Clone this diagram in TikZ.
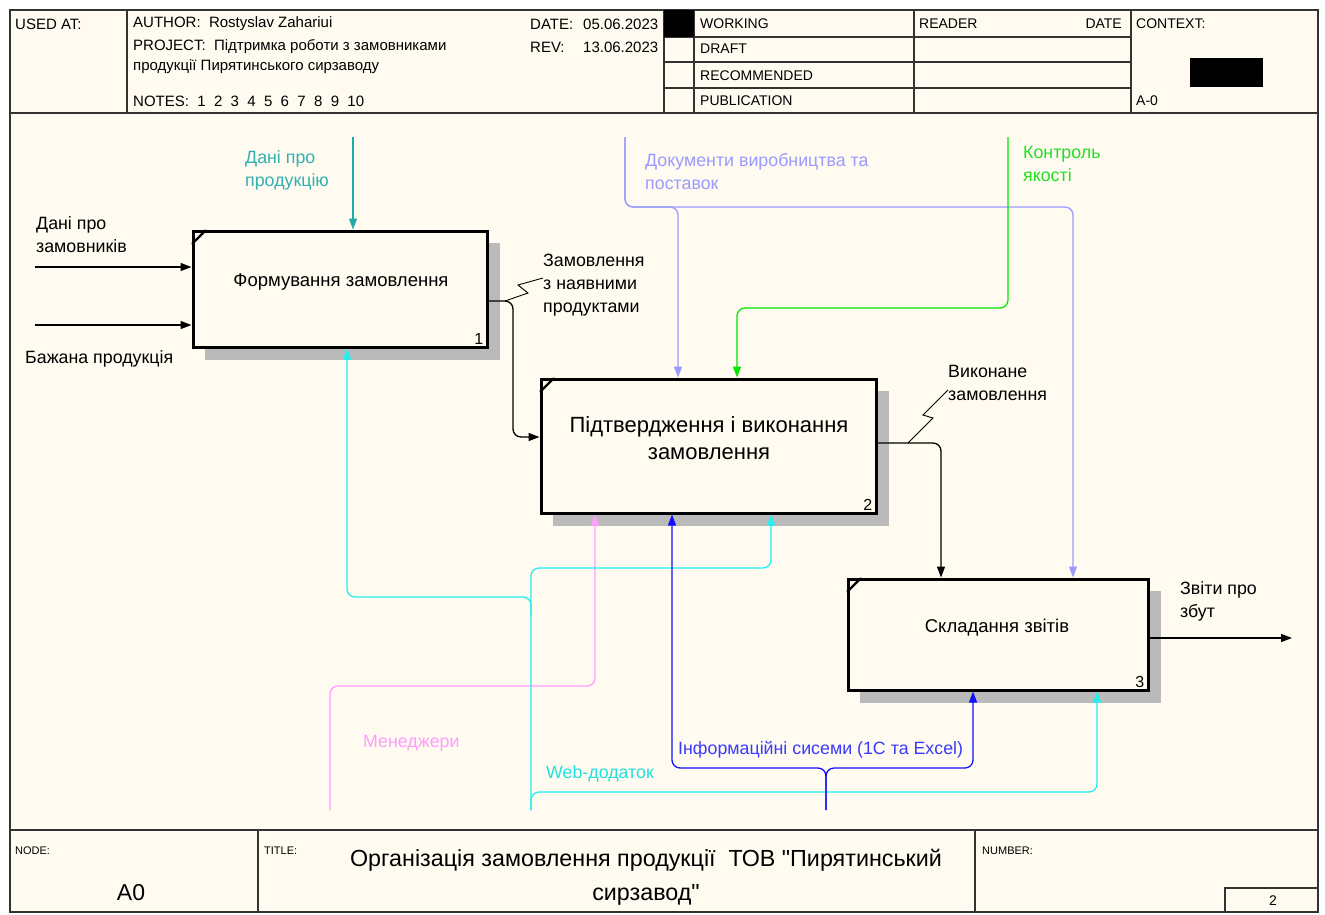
\documentclass[tikz,border=0pt]{standalone}
\usepackage{fontspec}
\setmainfont{Liberation Sans}
\newfontfamily\plainsans{Liberation Sans}[Ligatures=TeXOff]
\usetikzlibrary{arrows.meta}
\definecolor{paper}{HTML}{FFFBF0}
\definecolor{frameC}{HTML}{333333}
\definecolor{tealC}{HTML}{22AAAA}
\definecolor{tealT}{HTML}{33B0B0}
\definecolor{lavC}{HTML}{9A9AFF}
\definecolor{grnC}{HTML}{00E600}
\definecolor{grnT}{HTML}{22DD22}
\definecolor{pinkC}{HTML}{FF9CFF}
\definecolor{cyanC}{HTML}{22F0F0}
\definecolor{cyanT}{HTML}{22E0E0}
\definecolor{bluC}{HTML}{1010FF}
\definecolor{bluT}{HTML}{3A3AFF}
\definecolor{shadowC}{HTML}{BABABA}
\tikzset{
  frame/.style={draw=frameC, line width=1.2pt},
  hdr/.style={font=\fontsize{15}{17}\selectfont, anchor=west, inner sep=0pt},
  stat/.style={font=\fontsize{14}{16}\selectfont, anchor=west, inner sep=0pt},
  small/.style={font=\fontsize{11}{13}\selectfont, anchor=west, inner sep=0pt},
  lbl/.style={font=\fontsize{17.8}{23}\selectfont, anchor=north west, align=left, inner sep=0pt},
  actbox/.style={draw=black, line width=3pt, fill=paper, rectangle, inner sep=0pt},
  boxtext/.style={font=\fontsize{18.5}{24}\selectfont, align=center, inner sep=0pt},
  boxnum/.style={font=\fontsize{16}{18}\selectfont, inner sep=0pt},
  tip/.style={-{Triangle[length=11pt,width=8pt]}},
  conn/.style={line width=1.3pt, rounded corners=8pt, tip},
  blk/.style={conn, draw=black},
  squig/.style={draw=black, line width=0.9pt},
}
\begin{document}
\begin{tikzpicture}[x=1pt,y=-1pt]
\useasboundingbox (0,0) rectangle (1325,914);
\fill[white] (0,0) rectangle (1325,914);
\fill[paper] (10,10) rectangle (1318,912);
% header
\draw[frame] (10,10) rectangle (1318,912);
\draw[frame] (10,113) -- (1318,113);
\foreach \x in {127,664,694,914,1131} \draw[frame] (\x,10) -- (\x,113);
\foreach \y in {37,62,88} \draw[frame] (664,\y) -- (1131,\y);
\fill[black] (664,10) rectangle (694,37);
\fill[black] (1190,58) rectangle (1263,87);
\node[hdr] (usedat) at (15,24) {USED AT:};
\node[hdr] (author) at (133,24) {AUTHOR:\ \ Rostyslav Zahariui};
\node[hdr] (project) at (133,47) {PROJECT:\ \ Підтримка роботи з замовниками};
\node[hdr] (project2) at (133,67) {продукції Пирятинського сирзаводу};
\node[hdr] (notes) at (133,101) {NOTES:\ \ 1\ \ 2\ \ 3\ \ 4\ \ 5\ \ 6\ \ 7\ \ 8\ \ 9\ \ 10};
\node[hdr] (date) at (530,24) {DATE:};
\node[hdr] (dateval) at (583,24) {05.06.2023};
\node[hdr] (rev) at (530,47) {REV:};
\node[hdr] (revval) at (583,47) {13.06.2023};
\node[stat] (working) at (700,24) {WORKING};
\node[stat] (draft) at (700,49) {DRAFT};
\node[stat] (recom) at (700,76) {RECOMMENDED};
\node[stat] (publ) at (700,101) {PUBLICATION};
\node[stat] (reader) at (919,24) {READER};
\node[stat, anchor=east] (rdate) at (1122,24) {DATE};
\node[stat] (context) at (1136,24) {CONTEXT:};
\node[stat] (azero) at (1136,101) {A-0};
% footer
\draw[frame] (10,830) -- (1318,830);
\draw[frame] (258,830) -- (258,912);
\draw[frame] (975,830) -- (975,912);
\draw[frame] (1225,888) rectangle (1318,912);
\node[small] (nodeL) at (15,851) {NODE:};
\node[small] (titleL) at (264,851) {TITLE:};
\node[small] (numberL) at (982,851) {NUMBER:};
\node[font=\fontsize{23}{24}\selectfont, inner sep=0pt] (nodeval) at (131,893) {A0};
\node[font=\plainsans\fontsize{23.3}{34}\selectfont, align=center, inner sep=0pt] (title) at (646,877) {Організація замовлення продукції\ \ ТОВ "Пирятинський\\сирзавод"};
\node[stat, anchor=center] (pagenum) at (1273,901) {2};
% shadows
\fill[shadowC] (205,243) rectangle (500,360);
\fill[shadowC] (553,391) rectangle (889,526);
\fill[shadowC] (860,591) rectangle (1161,703);
% boxes
\node[actbox, minimum width=294pt, minimum height=116pt] (b1) at (340,289) {};
\node[actbox, minimum width=335pt, minimum height=134pt] (b2) at (708.5,446) {};
\node[actbox, minimum width=300pt, minimum height=111pt] (b3) at (998,634.5) {};
\foreach \b in {b1,b2,b3} \draw[line width=2.4pt, line cap=round] ([xshift=1pt,yshift=-14pt]\b.north west) -- ([xshift=14pt,yshift=-1pt]\b.north west);
\node[boxtext] (t1) at (341,282) {Формування замовлення};
\node[boxtext, font=\fontsize{22}{27}\selectfont] (t2) at (709,438) {Підтвердження і виконання\\замовлення};
\node[boxtext] (t3) at (997,628) {Складання звітів};
\node[boxnum, anchor=south east] (n1) at ([xshift=-5pt,yshift=4pt]b1.south east) {1};
\node[boxnum, anchor=south east] (n2) at ([xshift=-5pt,yshift=4pt]b2.south east) {2};
\node[boxnum, anchor=south east] (n3) at ([xshift=-5pt,yshift=4pt]b3.south east) {3};
% inputs
\coordinate (i1) at (35,267);
\coordinate (i2) at (35,325);
\draw[blk] (i1) -- (i1 -| b1.west);
\draw[blk] (i2) -- (i2 -| b1.west);
\node[lbl] (li1) at (36,216) {Дані про\\замовників};
\node[lbl] (li2) at (25,350) {Бажана продукція};
% control: Дані про продукцію
\coordinate (c1) at (353,137);
\draw[conn, draw=tealC] (c1) -- (c1 |- b1.north);
\node[lbl, text=tealT] (lc1) at (245,150) {Дані про\\продукцію};
% output 1 -> 2
\draw[blk] (b1.east |- 0,301) -- (513,301) -- (513,437) -- (b2.west |- 0,437);
\draw[squig] (505,301) -- (528,293) -- (518,285) -- (543,278);
\node[lbl] (lo1) at (543,254) {Замовлення\\з наявними\\продуктами};
% control: documents
\coordinate (c2) at (625,137);
\draw[conn, draw=lavC] (c2) -- (625,207) -- (678,207) -- (678,0 |- b2.north);
\draw[conn, draw=lavC] (c2) -- (625,207) -- (1073,207) -- (1073,0 |- b3.north);
\node[lbl, text=lavC] (lc2) at (645,153) {Документи виробництва та\\поставок};
% control: quality
\coordinate (c3) at (1008,137);
\draw[conn, draw=grnC] (c3) -- (1008,308) -- (737,308) -- (737,0 |- b2.north);
\node[lbl, text=grnT] (lc3) at (1023,146) {Контроль\\якості};
% output 2 -> 3
\draw[blk] (b2.east |- 0,443) -- (941,443) -- (941,0 |- b3.north);
\draw[squig] (908,443) -- (933,418) -- (923,415) -- (948,390);
\node[lbl] (lo2) at (948,365) {Виконане\\замовлення};
% output 3
\coordinate (o3) at (1292,638);
\draw[blk] (b3.east |- o3) -- (o3);
\node[lbl] (lo3) at (1180,581) {Звіти про\\збут};
% mechanisms
\coordinate (m1) at (330,810);
\draw[conn, draw=pinkC] (m1) -- (330,686) -- (595,686) -- (595,0 |- b2.south);
\node[lbl, text=pinkC] (lm1) at (363,735) {Менеджери};
\coordinate (m2) at (531,810);
\draw[conn, draw=cyanC] (m2) -- (531,568) -- (771,568) -- (771,0 |- b2.south);
\draw[conn, draw=cyanC] (m2) -- (531,792) -- (1097,792) -- (1097,0 |- b3.south);
\draw[conn, draw=cyanC] (531,615) -- (531,597) -- (347,597) -- (347,0 |- b1.south);
\node[lbl, text=cyanT] (lm2) at (546,765) {Web-додаток};
\coordinate (m3) at (826,810);
\draw[conn, draw=bluC] (m3) -- (826,768) -- (672,768) -- (672,0 |- b2.south);
\draw[conn, draw=bluC] (m3) -- (826,768) -- (973,768) -- (973,0 |- b3.south);
\node[lbl, text=bluT] (lm3) at (678,741) {Інформаційні сисеми (1С та Excel)};
\end{tikzpicture}
\end{document}
